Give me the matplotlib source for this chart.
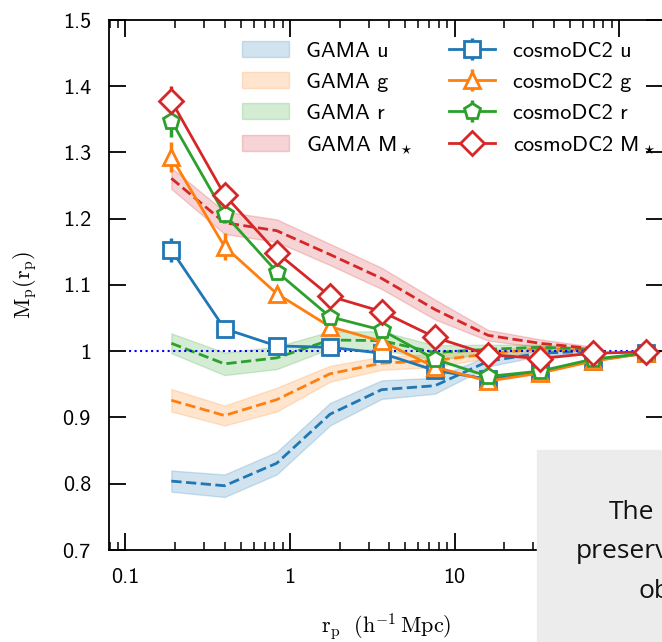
import matplotlib
matplotlib.use("Agg")
import matplotlib.pyplot as plt
import matplotlib.ticker as ticker
from matplotlib.patches import Rectangle
import numpy as np

plt.rcParams['font.family'] = 'cmss10'
plt.rcParams['mathtext.fontset'] = 'cm'
plt.rcParams['axes.unicode_minus'] = False

# projected separation bins, h^-1 Mpc
rp = [0.19, 0.40, 0.83, 1.75, 3.6, 7.6, 16, 33, 69, 145]
rp_gama = rp[:9]

# cosmoDC2 marked correlation and errors
dc2_u = [1.153, 1.034, 1.008, 1.006, 0.997, 0.971, 0.958, 0.968, 0.986, 0.997]
dc2_u_err = [0.018, 0.009, 0.005, 0.004, 0.003, 0.003, 0.002, 0.002, 0.002, 0.001]
dc2_g = [1.293, 1.158, 1.087, 1.037, 1.015, 0.976, 0.955, 0.967, 0.985, 0.997]
dc2_g_err = [0.023, 0.020, 0.010, 0.006, 0.004, 0.003, 0.002, 0.002, 0.002, 0.001]
dc2_r = [1.348, 1.207, 1.120, 1.052, 1.032, 0.988, 0.962, 0.970, 0.988, 0.997]
dc2_r_err = [0.024, 0.014, 0.008, 0.005, 0.004, 0.003, 0.002, 0.002, 0.002, 0.001]
dc2_ms = [1.378, 1.236, 1.149, 1.083, 1.060, 1.021, 0.995, 0.989, 0.997, 0.999]
dc2_ms_err = [0.022, 0.012, 0.008, 0.005, 0.004, 0.003, 0.002, 0.002, 0.002, 0.001]

# GAMA measurements (centre and half-width of the band)
gama_u = [0.804, 0.797, 0.831, 0.905, 0.942, 0.948, 0.985, 0.997, 1.000]
gama_u_err = [0.016, 0.017, 0.017, 0.017, 0.014, 0.012, 0.008, 0.004, 0.002]
gama_g = [0.926, 0.903, 0.927, 0.966, 0.982, 0.986, 0.996, 1.004, 1.001]
gama_g_err = [0.017, 0.015, 0.018, 0.012, 0.010, 0.010, 0.006, 0.004, 0.002]
gama_r = [1.012, 0.981, 0.990, 1.017, 1.016, 0.998, 1.003, 1.006, 1.003]
gama_r_err = [0.015, 0.017, 0.017, 0.013, 0.014, 0.011, 0.007, 0.004, 0.002]
gama_ms = [1.261, 1.194, 1.182, 1.146, 1.110, 1.063, 1.024, 1.012, 1.004]
gama_ms_err = [0.016, 0.017, 0.017, 0.016, 0.016, 0.015, 0.008, 0.006, 0.003]

unity_x = [0.105, 1000]
unity_y = [1, 1]

colours = ['C0', 'C1', 'C2', 'C3']
bands = ['u', 'g', 'r', r'M$_\star$']
markers = ['s', '^', 'p', 'D']

fig = plt.figure(figsize=(6.62, 6.42), dpi=100)
ax = fig.add_axes([109/662, 92/642, 554/662, 530/642])

gama = [(gama_u, gama_u_err), (gama_g, gama_g_err),
        (gama_r, gama_r_err), (gama_ms, gama_ms_err)]
dc2 = [(dc2_u, dc2_u_err), (dc2_g, dc2_g_err),
       (dc2_r, dc2_r_err), (dc2_ms, dc2_ms_err)]

# GAMA bands with dashed centre lines
for (mid, err), c, b in zip(gama, colours, bands):
    mid = np.array(mid)
    err = np.array(err)
    ax.fill_between(rp_gama, mid - err, mid + err, color=c, alpha=0.2,
                    lw=1, label='GAMA ' + b, zorder=1)
    ax.plot(rp_gama, mid, '--', color=c, lw=2, zorder=1.2)

ax.plot(unity_x, unity_y, ':', color='blue', lw=1.5, zorder=1.5)

# cosmoDC2 points on top
for (val, err), c, b, m in zip(dc2, colours, bands, markers):
    ax.errorbar(rp, val, yerr=err, color=c, marker=m, ms=12, mfc='white',
                mew=2, lw=2, elinewidth=2.5, capsize=0,
                label='cosmoDC2 ' + b, zorder=3)

ax.set_xscale('log')
ax.set_xlim(10**-1.1, 10**2.266)
ax.set_ylim(0.7, 1.5)
ax.yaxis.set_major_locator(ticker.MultipleLocator(0.1))
fmt = ticker.FuncFormatter(lambda v, p: '%g' % round(v, 3))
ax.xaxis.set_major_formatter(fmt)
ax.xaxis.set_minor_formatter(ticker.NullFormatter())
ax.yaxis.set_major_formatter(fmt)
ax.tick_params(axis='both', which='major', direction='in', top=True,
               right=True, length=12, width=1.3, pad=13, labelsize=16)
ax.tick_params(axis='both', which='minor', direction='in', top=True,
               right=True, length=6, width=1.1)
for s in ax.spines.values():
    s.set_linewidth(1.3)

ax.set_xlabel(r'$\mathrm{r_p\ \ (h^{-1}\,Mpc)}$', fontsize=16)
ax.set_ylabel(r'$\mathrm{M_p(r_p)}$', fontsize=16)
ax.xaxis.set_label_coords(0.5, -0.116)
ax.yaxis.set_label_coords(-0.125, 0.5)

ax.legend(ncol=2, frameon=False, fontsize=16, loc='upper left',
          bbox_to_anchor=(0.24, 0.96), borderaxespad=0, borderpad=0,
          handlelength=2.1, handletextpad=0.8, columnspacing=1.6,
          labelspacing=0.52)

# overlay panel in the lower right corner
fig.add_artist(Rectangle((537/662, 0), 0.3, 192/642, color='#ececec',
                         transform=fig.transFigure, zorder=5))
txt = dict(family='Open Sans', fontsize=19, color='#111111', zorder=6)
fig.text(609/662, 1 - 519/642, 'The', **txt)
fig.text(576/662, 1 - 558/642, 'preserv', **txt)
fig.text(638/662, 1 - 598/642, 'ob', **txt)

fig.savefig('out.png', dpi=100)
